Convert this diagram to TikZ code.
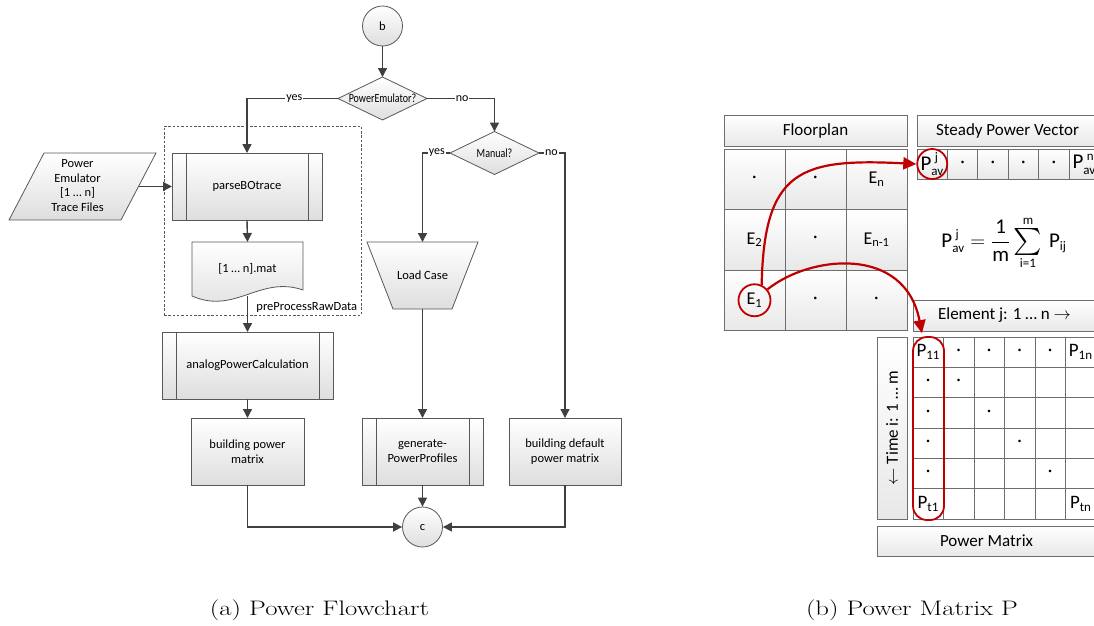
\documentclass[tikz,border=0pt]{standalone}
\usepackage{fontspec}
\usepackage{amsmath}
\usepackage{graphicx}
\usetikzlibrary{arrows.meta,calc,shadows}
\newfontfamily\carl{Carlito}
\DeclareMathSizes{21}{21}{13}{10}
\DeclareMathSizes{18}{18}{12.5}{9}
\DeclareMathSizes{19}{19}{13}{9}
\DeclareMathSizes{17}{17}{12}{9}
\pgfdeclarelayer{background}
\pgfsetlayers{background,main}
\definecolor{linegray}{RGB}{64,64,64}
\definecolor{boxgray}{RGB}{88,88,88}
\definecolor{fillgray}{RGB}{222,222,222}
\definecolor{cellline}{RGB}{110,110,110}
\definecolor{cellfill}{RGB}{232,232,232}
\definecolor{redc}{RGB}{192,0,0}
\newcommand{\fdot}{·}
\newcommand{\bigsum}{\mathop{\vcenter{\hbox{\scalebox{1.3}{$\sum$}}}}\limits}
\begin{document}
\begin{tikzpicture}[x=1pt,y=-1pt,
  flowfont/.style={font=\carl\fontsize{12.5}{15}\selectfont},
  flowbox/.style={flowfont,draw=boxgray,line width=0.8pt,top color=white,bottom color=fillgray,
    minimum height=67pt,inner sep=2pt,align=center,outer sep=0pt},
  boxline/.style={draw=boxgray,line width=0.8pt},
  shapefill/.style={draw=boxgray,line width=0.8pt,top color=white,bottom color=fillgray},
  plain/.style={flowfont,inner sep=0pt,outer sep=0pt,align=center},
  conn/.style={flowfont,circle,draw=boxgray,line width=0.8pt,top color=white,bottom color=fillgray,minimum size=40pt,inner sep=0pt},
  decision/.style={plain,minimum width=89pt,minimum height=43pt},
  grpbox/.style={draw=boxgray,line width=0.7pt,dash pattern=on 2.5pt off 1.8pt,inner sep=0pt},
  flow/.style={draw=linegray,line width=1.4pt,-{Triangle[length=9pt,width=9pt]}},
  lbl/.style={font=\carl\fontsize{12}{14}\selectfont,fill=white,inner sep=1pt},
  hdr/.style={font=\carl\fontsize{17}{20}\selectfont,draw=cellline,line width=0.8pt,top color=white,bottom color=cellfill,
    inner sep=0pt,outer sep=0pt,drop shadow={shadow xshift=1.2pt,shadow yshift=-1.2pt,opacity=0.25}},
  cell/.style={draw=cellline,line width=0.8pt,top color=white,bottom color=cellfill,inner sep=0pt,outer sep=0pt},
  fpcell/.style={cell,minimum width=61pt,minimum height=60.5pt,font=\carl\fontsize{18}{20}\selectfont},
  vcell/.style={cell,minimum width=30.4pt,minimum height=30pt,font=\carl\fontsize{21}{24}\selectfont},
  mcell/.style={draw=cellline,line width=0.8pt,fill=white,inner sep=0pt,outer sep=0pt,minimum width=30.5pt,minimum height=30.33pt},
  mtext/.style={font=\carl\fontsize{19}{22}\selectfont,inner sep=0pt},
  redring/.style={draw=redc,line width=1.8pt,circle,inner sep=0pt},
  redarrow/.style={draw=redc,line width=2.2pt,-{Triangle[length=13pt,width=12pt]}},
  captext/.style={font=\fontsize{21}{25}\selectfont,anchor=base,inner sep=0pt}
]
\useasboundingbox (0,0) rectangle (1094,625);
\clip (0,0) rectangle (1094,625);

% ---------------- flowchart ----------------
\node[conn] (b) at (382.5,26) {b};
\node[decision] (d1) at (382.5,98.5) {\scalebox{0.8}[1]{PowerEmulator?}};
\node[decision] (d2) at (494.5,153) {\scalebox{0.8}[1]{Manual?}};
\node[grpbox,minimum width=197pt,minimum height=189pt] (grp) at (262.5,220.5) {};
\node[flowfont,anchor=base east,inner sep=0pt] (grplbl) at ($(grp.south east)+(-4,-5)$) {preProcessRawData};
\node[flowbox,minimum width=150pt] (pbo) at (247,186.5) {parseBOtrace};
\node[plain,minimum width=111pt,minimum height=54pt] (doc) at (247.5,269) {[1 … n].mat};
\node[flowbox,minimum width=171pt] (apc) at (247.5,365.5) {analogPowerCalculation};
\node[flowbox,minimum width=113pt] (bpm) at (247.5,451.5) {building power\\matrix};
\node[plain,minimum width=111pt,minimum height=67pt] (lc) at (422.5,275.5) {Load Case};
\node[flowbox,minimum width=121pt] (gpp) at (422.5,451.5) {generate-\\PowerProfiles};
\node[flowbox,minimum width=112pt] (bdm) at (565,451.5) {building default\\power matrix};
\node[conn] (c) at (422.5,527) {c};
\node[plain,minimum width=112pt,minimum height=67pt,font=\carl\fontsize{12.5}{14.8}\selectfont] (pe) at (82.5,186.5)
  {\hspace*{-10pt}\begin{tabular}{@{}c@{}}Power\\Emulator\\{[1 … n]}\\Trace Files\end{tabular}};

\begin{pgfonlayer}{background}
  \path[shapefill] (d1.north) -- (d1.east) -- (d1.south) -- (d1.west) -- cycle;
  \path[shapefill] (d2.north) -- (d2.east) -- (d2.south) -- (d2.west) -- cycle;
  \path[shapefill] (doc.north west) -- (doc.north east) -- ($(doc.south east)+(0,-6)$)
    .. controls ($(doc.south)+(12.5,-21)$) and ($(doc.south)+(-12.5,19)$) .. (doc.south west) -- cycle;
  \path[shapefill] (lc.north west) -- (lc.north east) -- ($(lc.south east)+(-26,0)$) -- ($(lc.south west)+(26,0)$) -- cycle;
  \path[shapefill] ($(pe.north west)+(17.5,0)$) -- ($(pe.north east)+(17.5,0)$) -- ($(pe.south east)+(-17.5,0)$) -- ($(pe.south west)+(-17.5,0)$) -- cycle;
\end{pgfonlayer}

\foreach \n in {pbo,apc,gpp}
  \draw[boxline] ([xshift=14pt]\n.north west) -- ([xshift=14pt]\n.south west)
                 ([xshift=-14pt]\n.north east) -- ([xshift=-14pt]\n.south east);

\draw[flow] (b) -- (d1.north);
\draw[flow] (d1.west) -| node[lbl,pos=0.24]{yes} (pbo.north);
\draw[flow] (d1.east) -| node[lbl,pos=0.26]{no} (d2.north);
\draw[flow] (d2.west) -| node[lbl,pos=0.24]{yes} (lc.north);
\draw[flow] (d2.east) -| node[lbl,pos=0.24]{no} (bdm.north);
\draw[flow] (pe.east) -- (pbo.west);
\draw[flow] (pbo.south) -- (doc.north);
\draw[flow] (doc.south) -- (apc.north);
\draw[flow] (apc.south) -- (bpm.north);
\draw[flow] (lc.south) -- (gpp.north);
\draw[flow] (gpp.south) -- (c.north);
\draw[flow] (bpm.south) |- (c.west);
\draw[flow] (bdm.south) |- (c.east);

% ---------------- power matrix ----------------
\node[hdr,minimum width=183pt,minimum height=31pt] (fph) at (815.5,130.5) {Floorplan};
\node[hdr,minimum width=181pt,minimum height=31pt] (svh) at (1007.5,130.5) {Steady Power Vector};

% floorplan grid
\foreach \c/\r/\t in {0/0/\fdot, 1/0/\fdot, 2/0/{$\text{E}_{\text{n}}$},
                      0/1/{$\text{E}_{\text{2}}$}, 1/1/\fdot, 2/1/{$\text{E}_{\text{n-1}}$},
                      0/2/{$\text{E}_{\text{1}}$}, 1/2/\fdot, 2/2/\fdot}
  \node[fpcell] (fp-\r-\c) at ({754.5+61*\c},{179.25+60.5*\r}) {\t};

% steady power vector
\foreach \i/\t in {0/{$\text{P}^{\;\text{j}}_{\text{av}}$}, 1/{\fontsize{18}{20}\selectfont\fdot}, 2/{\fontsize{18}{20}\selectfont\fdot},
                   3/{\fontsize{18}{20}\selectfont\fdot}, 4/{\fontsize{18}{20}\selectfont\fdot}, 5/{$\text{P}^{\;\text{n}}_{\text{av}}$}}
  \node[vcell] (vec-\i) at ({932.2+30.4*\i},164) {\t};

% averaging formula
\node[font=\carl\fontsize{21}{24}\selectfont,inner sep=0pt] (avg) at (1004,243)
  {$\text{P}^{\;\text{j}}_{\text{av}} = \dfrac{\text{1}}{\text{m}}\bigsum_{\text{i=1}}^{\text{m}}\, \text{P}_{\text{ij}}$};

% power matrix
\node[hdr,minimum width=183pt,minimum height=31pt] (elh) at (1004.5,315.5) {Element j: 1 … n $\rightarrow$};
\node[hdr,minimum width=30pt,minimum height=182pt] (tmh) at (892,428) {\rotatebox{90}{$\leftarrow$ Time i: 1 … m}};
\foreach \r in {0,...,5}
  \foreach \c in {0,...,5}
    \node[mcell] (m-\r-\c) at ({928.25+30.5*\c},{352.17+30.33*\r}) {};
\node[hdr,minimum width=219pt,minimum height=30pt] (pmh) at (986.5,541) {Power Matrix};

\node[mtext] (p11) at (m-0-0) {$\text{P}_{\text{11}}$};
\node[mtext] (p1n) at (m-0-5) {$\text{P}_{\text{1n}}$};
\node[mtext] (pt1) at (m-5-0) {$\text{P}_{\text{t1}}$};
\node[mtext] (ptn) at (m-5-5) {$\text{P}_{\text{tn}}$};
\foreach \c in {1,...,4} \node[mtext,font=\carl\fontsize{18}{20}\selectfont] (rowdot-\c) at (m-0-\c) {\fdot};
\foreach \r in {1,...,4} \node[mtext,font=\carl\fontsize{18}{20}\selectfont] (coldot-\r) at (m-\r-0) {\fdot};
\foreach \r in {1,...,4} \node[mtext,font=\carl\fontsize{18}{20}\selectfont] (diagdot-\r) at (m-\r-\r) {\fdot};

% highlights
\node[redring,minimum size=32pt] (e1c) at (fp-2-0) {};
\node[redring,minimum size=30pt] (pavc) at (vec-0) {};
\node[draw=redc,line width=1.8pt,rounded corners=14pt,minimum width=31pt,minimum height=183pt,inner sep=0pt] (col1) at (928.5,428.5) {};
\draw[redarrow] (e1c.65) .. controls (764,170) and (800,158) .. (pavc.west);
\draw[redarrow,shorten >=3pt] (e1c.40) .. controls (810,255) and (905,245) .. ([xshift=-6pt]col1.north);

% captions
\node[captext] (capa) at (319.5,615) {\resizebox{219pt}{\height}{(a)\hspace{0.3em}Power Flowchart}};
\node[captext] (capb) at (912,615) {\resizebox{212pt}{\height}{(b)\hspace{0.3em}Power Matrix P}};
\end{tikzpicture}
\end{document}
